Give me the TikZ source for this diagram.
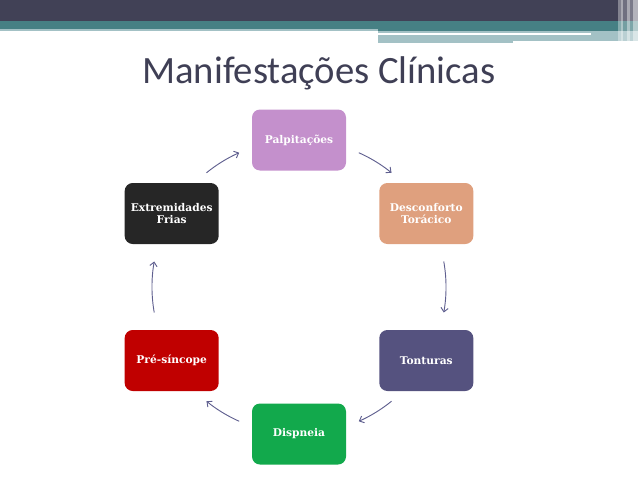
\documentclass[tikz,border=0pt]{standalone}
\usepackage{fontspec}
\usepackage{tikz}
\usetikzlibrary{arrows.meta}
\newfontfamily\titlefont{Carlito}
\newfontfamily\boxfont{DejaVu Serif}
\definecolor{BarDark}{HTML}{414156}
\definecolor{BarTeal}{HTML}{468084}
\definecolor{BarLight}{HTML}{A3C1C5}
\definecolor{TitleGray}{HTML}{3F3F55}
\definecolor{CPalp}{HTML}{C490CC}
\definecolor{CDesc}{HTML}{DFA07E}
\definecolor{CTont}{HTML}{55527F}
\definecolor{CDisp}{HTML}{12A94C}
\definecolor{CPre}{HTML}{C00000}
\definecolor{CExtr}{HTML}{262626}
\definecolor{CArrow}{HTML}{5F5F8F}

\begin{document}
\begin{tikzpicture}[
    x=0.75pt, y=0.75pt,
    symptom/.style={rectangle, rounded corners=6pt, minimum width=70.5pt, minimum height=45.75pt, align=center, text=white, inner sep=1pt, font=\boxfont\bfseries\fontsize{8}{8.5}\selectfont},
    cyc/.style={-{Straight Barb[length=3pt, width=5.5pt]}, draw=CArrow, line width=0.7pt}
]
\useasboundingbox (-299,-192) rectangle (339,287);

% header bar
\fill[BarDark] (-299,287) rectangle (339,266);
\fill[BarTeal] (-299,266) rectangle (79,258);
\fill[BarLight] (-299,258) rectangle (79,256);
\fill[BarTeal] (79,266) rectangle (339,256);
\fill[BarLight] (79,256) rectangle (214,244);
\fill[BarLight] (214,256) rectangle (339,246);
\fill[white] (79,253.5) rectangle (292,251.5);
\fill[white, opacity=0.35] (319,287) rectangle (322,244);
\fill[white, opacity=0.55] (322,287) rectangle (324,244);
\fill[white, opacity=0.25] (324,287) rectangle (328,244);
\fill[white, opacity=0.55] (328,287) rectangle (331,244);
\fill[white, opacity=0.3] (331,287) rectangle (334,244);
\fill[white, opacity=0.6] (334,287) rectangle (339,244);

\node[font=\titlefont\fontsize{29}{30}\selectfont, text=TitleGray, anchor=base west, inner sep=0pt] (title) at (-157,204) {Manifestações Clínicas};

% cycle
\coordinate (hub) at (0,0);
\node[symptom, fill=CPalp] (palp) at (90:147) {Palpitações};
\node[symptom, fill=CDesc] (desc) at (30:147) {Desconforto\\Torácico};
\node[symptom, fill=CTont] (tont) at (-30:147) {Tonturas};
\node[symptom, fill=CDisp] (disp) at (-90:147) {Dispneia};
\node[symptom, fill=CPre] (pre) at (-150:147) {Pré-síncope};
\node[symptom, fill=CExtr] (extr) at (150:147) {Extremidades\\Frias};

\foreach \s/\t in {66/51, 10/-10, -51/-66, -114/-129, 190/170, 129/114}
  \draw[cyc] ([shift={(\s:147)}]hub) arc[start angle=\s, end angle=\t, radius=147];
\end{tikzpicture}
\end{document}
